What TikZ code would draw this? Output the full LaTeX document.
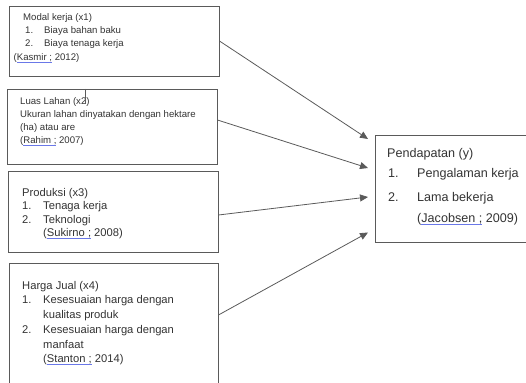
\documentclass[tikz,border=0pt]{standalone}
\usepackage{fontspec}
\setmainfont{Liberation Sans}
\usetikzlibrary{arrows.meta}
\definecolor{garisabu}{HTML}{5A5A5A}
\definecolor{teksabu}{HTML}{333333}
\definecolor{birueja}{HTML}{6A78E8}
% garis bawah biru (ejaan)
\newcommand{\ejaan}[1]{\setbox0\hbox{#1}\rlap{\color{birueja}\rule[-2.2pt]{\wd0}{0.7pt}}\box0\relax}

\begin{document}
\begin{tikzpicture}[x=1pt,y=-1pt,>={Triangle[length=8pt,width=7pt]},
    kotak/.style={draw=garisabu,line width=0.9pt,rectangle,inner sep=0pt},
    kecil/.style={anchor=base west,inner sep=0pt,text=teksabu,font=\fontsize{9.6}{11}\selectfont},
    sedang/.style={kecil,font=\fontsize{11.2}{13}\selectfont},
    besar/.style={kecil,font=\fontsize{12.6}{15}\selectfont},
    panah/.style={->,draw=garisabu,line width=0.8pt}]
        \useasboundingbox (0,0) rectangle (526,382);
        \clip (0,0) rectangle (526,382);

        % kotak variabel
        \node[kotak,minimum width=210pt,minimum height=70pt] (x1) at (114,41) {};
        \node[kotak,minimum width=210pt,minimum height=75pt] (x2) at (112,126.5) {};
        \node[kotak,minimum width=210pt,minimum height=81pt] (x3) at (113,211.5) {};
        \node[kotak,minimum width=209pt,minimum height=137pt] (x4) at (113.5,331.5) {};
        \node[kotak,minimum width=165pt,minimum height=107pt] (y) at (457.5,188.5) {};

        %x1
        \node[kecil] (t11) at (23,20.5) {Modal kerja (x1)};
        \node[kecil] (t12) at (25,34) {1.};
        \node[kecil] (t13) at (44,34) {Biaya bahan baku};
        \node[kecil] (t14) at (25,47) {2.};
        \node[kecil] (t15) at (44,47) {Biaya tenaga kerja};
        \node[kecil] (t16) at (13.5,60.5) {(\ejaan{Kasmir ;} 2012)};

        %x2
        \node[kecil] (t21) at (20,104.5) {Luas Lahan (x2)};
        \node[kecil] (t22) at (20,117.5) {Ukuran lahan dinyatakan dengan hektare};
        \node[kecil] (t23) at (20,130.5) {(ha) atau are};
        \node[kecil] (t24) at (20,143.5) {(\ejaan{Rahim ;} 2007)};
        \draw[garisabu,line width=0.6pt] (85.5,89) -- (85.5,104);

        %x3
        \node[sedang] (t31) at (22,196) {Produksi (x3)};
        \node[sedang] (t32) at (22,209.5) {1.};
        \node[sedang] (t33) at (43,209.5) {Tenaga kerja};
        \node[sedang] (t34) at (22,223) {2.};
        \node[sedang] (t35) at (43,223) {Teknologi};
        \node[sedang] (t36) at (43,236.5) {(\ejaan{Sukirno ;} 2008)};

        %x4
        \node[sedang] (t41) at (22,289) {Harga Jual (x4)};
        \node[sedang] (t42) at (22,303.5) {1.};
        \node[sedang] (t43) at (43,303.5) {Kesesuaian harga dengan};
        \node[sedang] (t44) at (43,318.5) {kualitas produk};
        \node[sedang] (t45) at (22,333.5) {2.};
        \node[sedang] (t46) at (43,333.5) {Kesesuaian harga dengan};
        \node[sedang] (t47) at (43,348) {manfaat};
        \node[sedang] (t48) at (43,362) {(\ejaan{Stanton ;} 2014)};

        %y
        \node[besar] (ty1) at (387,157.5) {Pendapatan (y)};
        \node[besar] (ty2) at (388,177.5) {1.};
        \node[besar] (ty3) at (417,177.5) {Pengalaman kerja};
        \node[besar] (ty4) at (388,201.5) {2.};
        \node[besar] (ty5) at (417,201.5) {Lama bekerja};
        \node[besar] (ty6) at (417,222.5) {(\ejaan{Jacobsen ;} 2009)};

        % ujung panah
        \coordinate (in1) at (368,139);
        \coordinate (in2) at (368,168);
        \coordinate (in3) at (368,197);
        \coordinate (in4) at (368,232.5);

        \draw[panah] (x1.east) -- (in1);
        \draw[panah] ([yshift=6.5pt]x2.east) -- (in2);
        \draw[panah] ([yshift=-3.5pt]x3.east) -- (in3);
        \draw[panah] ([yshift=16.5pt]x4.east) -- (in4);
\end{tikzpicture}
\end{document}
